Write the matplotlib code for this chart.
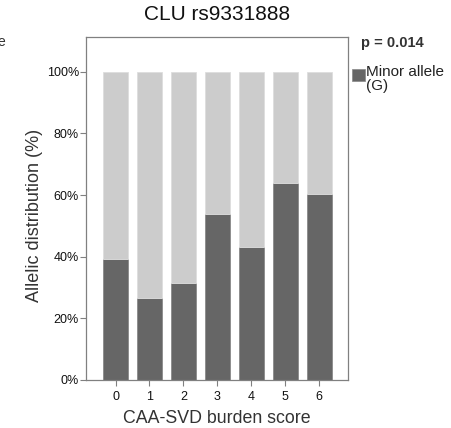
import matplotlib
matplotlib.use('Agg')
import matplotlib.pyplot as plt
from matplotlib.patches import Rectangle

plt.rcParams['font.family'] = ['Liberation Sans', 'DejaVu Sans']

# data
scores = ['0', '1', '2', '3', '4', '5', '6']
minor_pct = [39.2, 26.6, 31.5, 53.9, 43.2, 64.0, 60.3]
major_pct = [100 - v for v in minor_pct]
yticks = [0, 20, 40, 60, 80, 100]

dark = '#666666'
light = '#cccccc'
spine = '#808080'

fig = plt.figure(figsize=(4.52, 4.28), dpi=100)
ax = fig.add_axes([86 / 452, 1 - 380 / 428, (348 - 86) / 452, (380 - 37) / 428])

x = list(range(len(scores)))
ax.bar(x, minor_pct, width=0.74, color=dark, edgecolor='#8a8a8a', linewidth=0.6)
ax.bar(x, major_pct, bottom=minor_pct, width=0.74, color=light, edgecolor='#dddddd', linewidth=0.6)

ax.set_xlim(-0.87, 6.85)
ax.set_ylim(0, 111.3)
ax.set_xticks(x)
ax.set_xticklabels(scores)
ax.set_yticks(yticks)
ax.set_yticklabels([f'{t}%' for t in yticks])
ax.tick_params(axis='y', length=4, width=0.8, color=spine, labelsize=9, pad=1)
ax.tick_params(axis='x', length=4, width=0.8, color=spine, labelsize=9, pad=4)
for lab in ax.get_xticklabels() + ax.get_yticklabels():
    lab.set_color('#111111')
for s in ax.spines.values():
    s.set_color(spine)
    s.set_linewidth(0.9)

ax.set_ylabel('Allelic distribution (%)', fontsize=13, color='#333333', labelpad=3)
ax.yaxis.label.set_y(0.48)
ax.set_xlabel('CAA-SVD burden score', fontsize=12.8, color='#333333', labelpad=5)
fig.text(0.5 * (86 + 348) / 452, 1 - 15 / 428, 'CLU rs9331888', ha='center', va='center',
         fontsize=15, color='#111111')

# legend and p value
fig.text(361 / 452, 1 - 43 / 428, 'p = 0.014', fontsize=10.5, fontweight='bold',
         color='#333333', va='center')
fig.patches.append(Rectangle((352 / 452, 1 - 81 / 428), 13 / 452, 12 / 428,
                             transform=fig.transFigure, facecolor=dark, edgecolor='#888888',
                             linewidth=0.5))
fig.text(366 / 452, 1 - 65 / 428, 'Minor allele\n(G)', fontsize=11, color='#222222',
         va='top', linespacing=1.0)

# stray letter cut off at the left edge, as in the reference
fig.text(-3 / 452, 1 - 42 / 428, 'e', fontsize=10, color='#333333', va='center')

fig.savefig('out.png', dpi=100)
